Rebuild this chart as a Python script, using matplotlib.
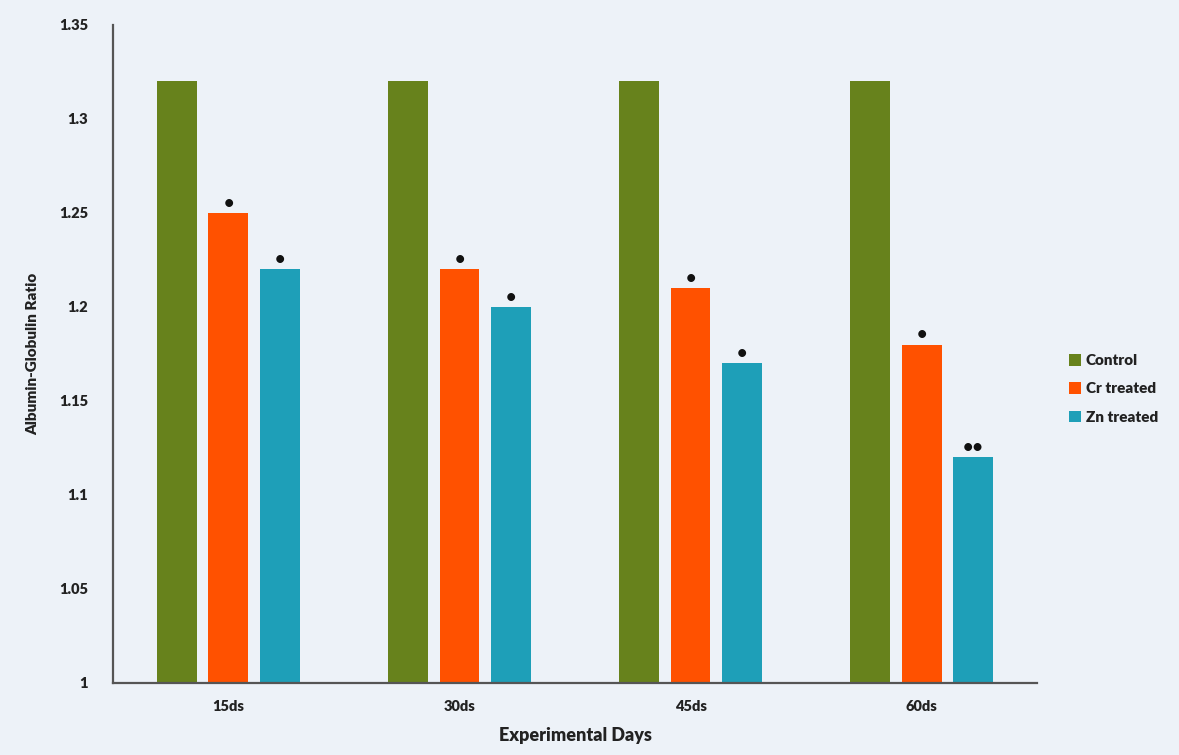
import matplotlib
matplotlib.use("Agg")
import matplotlib.pyplot as plt
import numpy as np

plt.rcParams['font.family'] = ['Lato', 'DejaVu Sans']

days = ["15ds", "30ds", "45ds", "60ds"]
series_names = ["Control", "Cr treated", "Zn treated"]
control = [1.32, 1.32, 1.32, 1.32]
cr_treated = [1.25, 1.22, 1.21, 1.18]
zn_treated = [1.22, 1.20, 1.17, 1.12]
cr_marks = ["•", "•", "•", "•"]
zn_marks = ["•", "•", "•", "••"]

colors = ["#67821c", "#ff5100", "#1e9fb8"]
bg = "#edf2f8"

fig = plt.figure(figsize=(11.79, 7.55), dpi=100, facecolor=bg)
ax = fig.add_axes([0.0958, 0.0954, 0.7838, 0.8715], facecolor=bg)

x = np.arange(len(days))
width = 0.173
offset = 0.223
values = [control, cr_treated, zn_treated]
bars = []
for i, (vals, name, c) in enumerate(zip(values, series_names, colors)):
    b = ax.bar(x + (i - 1) * offset, vals, width, bottom=0, color=c, label=name, zorder=2)
    bars.append(b)

for marks, b in ((cr_marks, bars[1]), (zn_marks, bars[2])):
    for m, rect in zip(marks, b):
        ax.annotate(m, (rect.get_x() + rect.get_width() / 2, rect.get_height()),
                    xytext=(0, 1), textcoords="offset points", ha="center", va="bottom",
                    fontsize=13, color="#111111", fontweight="bold")

ax.set_ylim(1, 1.35)
ax.set_xlim(-0.5, len(days) - 0.5)
ax.set_yticks(np.arange(1.0, 1.351, 0.05))
ax.set_yticklabels(["1", "1.05", "1.1", "1.15", "1.2", "1.25", "1.3", "1.35"])
ax.set_xticks(x)
ax.set_xticklabels(days)
ax.tick_params(axis="both", length=0, labelsize=10.5, colors="#222222")
ax.tick_params(axis="y", pad=18)
ax.tick_params(axis="x", pad=12)
for lbl in ax.get_xticklabels() + ax.get_yticklabels():
    lbl.set_fontweight("heavy")

for s in ("top", "right"):
    ax.spines[s].set_visible(False)
for s in ("left", "bottom"):
    ax.spines[s].set_color("#555555")
    ax.spines[s].set_linewidth(1.6)

ax.set_xlabel("Experimental Days", fontsize=13, fontweight="heavy", color="#222222", labelpad=10)
ax.set_ylabel("Albumin-Globulin Ratio", fontsize=11, fontweight="heavy", color="#222222", labelpad=14)

leg = fig.legend(handles=bars, labels=series_names, loc="center left",
                 bbox_to_anchor=(0.895, 0.485), frameon=False,
                 handlelength=0.8, handleheight=0.8, handletextpad=0.3,
                 labelspacing=1.0, prop={"size": 11, "weight": "heavy"})
for t in leg.get_texts():
    t.set_color("#222222")

fig.savefig("out.png", dpi=100, facecolor=bg)
